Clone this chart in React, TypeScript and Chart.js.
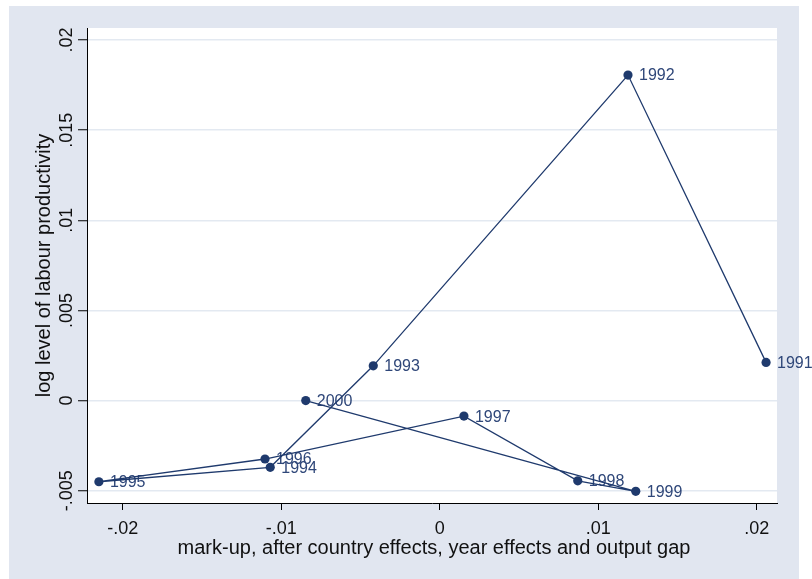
import React, { useEffect, useRef } from "react";
import { Chart, registerables } from "chart.js";

Chart.register(...registerables);

// Observations, one per year, joined in year order
const years = ["1991", "1992", "1993", "1994", "1995", "1996", "1997", "1998", "1999", "2000"];
const markup = [0.02059, 0.01188, -0.00419, -0.01069, -0.0215, -0.01102, 0.00153, 0.00871, 0.01237, -0.00845];
const productivity = [0.00212, 0.01806, 0.00193, -0.0037, -0.0045, -0.00324, -0.00086, -0.00445, -0.00503, 0.0];

const xTicks = [-0.02, -0.01, 0, 0.01, 0.02];
const yTicks = [-0.005, 0, 0.005, 0.01, 0.015, 0.02];

const xTitle = "mark-up, after country effects, year effects and output gap";
const yTitle = "log level of labour productivity";

const FONT = '"Liberation Sans", Arial, Helvetica, sans-serif';
const NAVY = "#1f3a6d";
const LABEL = "#2f4779";
const REGION = "#e1e6f0";
const GRID = "#e3e9f1";

// Stata-style number format: ".02", "-.005", "0"
function fmt(v: number): string {
  if (Math.abs(v) < 1e-12) return "0";
  const s = String(+v.toFixed(4));
  return s.replace(/^(-?)0\./, "$1.");
}

const W = 812;
const H = 579;

const framePlugin = {
  id: "stataFrame",
  beforeDraw(chart: any) {
    const { ctx, chartArea } = chart;
    ctx.save();
    ctx.fillStyle = "#ffffff";
    ctx.fillRect(0, 0, W, H);
    ctx.fillStyle = REGION;
    ctx.fillRect(9, 6, 790, 573);
    ctx.fillStyle = "#ffffff";
    ctx.fillRect(chartArea.left, chartArea.top, chartArea.right - chartArea.left, chartArea.bottom - chartArea.top);
    ctx.restore();
  },
  beforeDatasetsDraw(chart: any) {
    const { ctx } = chart;
    const xs = chart.scales.x;
    const ys = chart.scales.y;
    ctx.save();
    ctx.font = `16px ${FONT}`;
    ctx.fillStyle = LABEL;
    ctx.textAlign = "left";
    ctx.textBaseline = "middle";
    years.forEach((yr, i) => {
      const px = xs.getPixelForValue(markup[i]);
      const py = ys.getPixelForValue(productivity[i]);
      ctx.fillText(yr, px + 11, py + 1);
    });
    ctx.restore();
  },
  afterDraw(chart: any) {
    const { ctx, chartArea } = chart;
    const xs = chart.scales.x;
    const ys = chart.scales.y;
    ctx.save();
    ctx.fillStyle = "#111111";

    // x tick labels
    ctx.font = `18px ${FONT}`;
    ctx.textAlign = "center";
    ctx.textBaseline = "alphabetic";
    xTicks.forEach((v) => {
      ctx.fillText(fmt(v), xs.getPixelForValue(v), 534);
    });

    // x title
    ctx.font = `20px ${FONT}`;
    ctx.fillText(xTitle, (chartArea.left + chartArea.right) / 2 + 2, 554);

    // y tick labels, rotated
    ctx.font = `18px ${FONT}`;
    yTicks.forEach((v) => {
      const py = ys.getPixelForValue(v);
      ctx.save();
      ctx.translate(71.5, py);
      ctx.rotate(-Math.PI / 2);
      ctx.textAlign = "center";
      ctx.textBaseline = "alphabetic";
      ctx.fillText(fmt(v), 0, 0);
      ctx.restore();
    });

    // y title, rotated
    ctx.font = `20px ${FONT}`;
    ctx.save();
    ctx.translate(50, (chartArea.top + chartArea.bottom) / 2);
    ctx.rotate(-Math.PI / 2);
    ctx.textAlign = "center";
    ctx.textBaseline = "alphabetic";
    ctx.fillText(yTitle, 0, 0);
    ctx.restore();

    ctx.restore();
  },
};

export default function App() {
  const canvasRef = useRef<HTMLCanvasElement | null>(null);

  useEffect(() => {
    const canvas = canvasRef.current;
    if (!canvas) return;
    const points = markup.map((x, i) => ({ x, y: productivity[i] }));

    const chart = new Chart(canvas, {
      type: "scatter",
      data: {
        datasets: [
          {
            data: points,
            showLine: true,
            borderColor: NAVY,
            borderWidth: 1.3,
            backgroundColor: NAVY,
            pointBackgroundColor: NAVY,
            pointBorderColor: NAVY,
            pointBorderWidth: 0,
            pointRadius: 4.6,
            tension: 0,
            clip: false as any,
          },
        ],
      },
      options: {
        responsive: false,
        animation: false,
        devicePixelRatio: 1,
        layout: { padding: { left: 0, right: 35, top: 28, bottom: 0 } },
        plugins: {
          legend: { display: false },
          tooltip: { enabled: false },
        },
        scales: {
          x: {
            type: "linear",
            min: -0.02225,
            max: 0.02128,
            afterBuildTicks: (scale: any) => {
              scale.ticks = xTicks.map((value) => ({ value }));
            },
            afterFit: (scale: any) => {
              scale.height = 76;
            },
            grid: {
              drawOnChartArea: false,
              drawTicks: true,
              tickLength: 7,
              tickColor: "#000000",
              tickWidth: 1,
            },
            border: { display: true, color: "#000000", width: 1 },
            ticks: { display: false },
          },
          y: {
            type: "linear",
            min: -0.00568,
            max: 0.02067,
            afterBuildTicks: (scale: any) => {
              scale.ticks = yTicks.map((value) => ({ value }));
            },
            afterFit: (scale: any) => {
              scale.width = 87;
            },
            grid: {
              color: GRID,
              lineWidth: 1.5,
              drawTicks: true,
              tickLength: 9,
              tickColor: "#000000",
              tickWidth: 1,
            },
            border: { display: true, color: "#000000", width: 1 },
            ticks: { display: false },
          },
        },
      },
      plugins: [framePlugin],
    });

    return () => chart.destroy();
  }, []);

  return (
    <div style={{ position: "absolute", left: 0, top: 0, width: W, height: H }}>
      <canvas ref={canvasRef} width={W} height={H} style={{ display: "block" }} />
    </div>
  );
}
